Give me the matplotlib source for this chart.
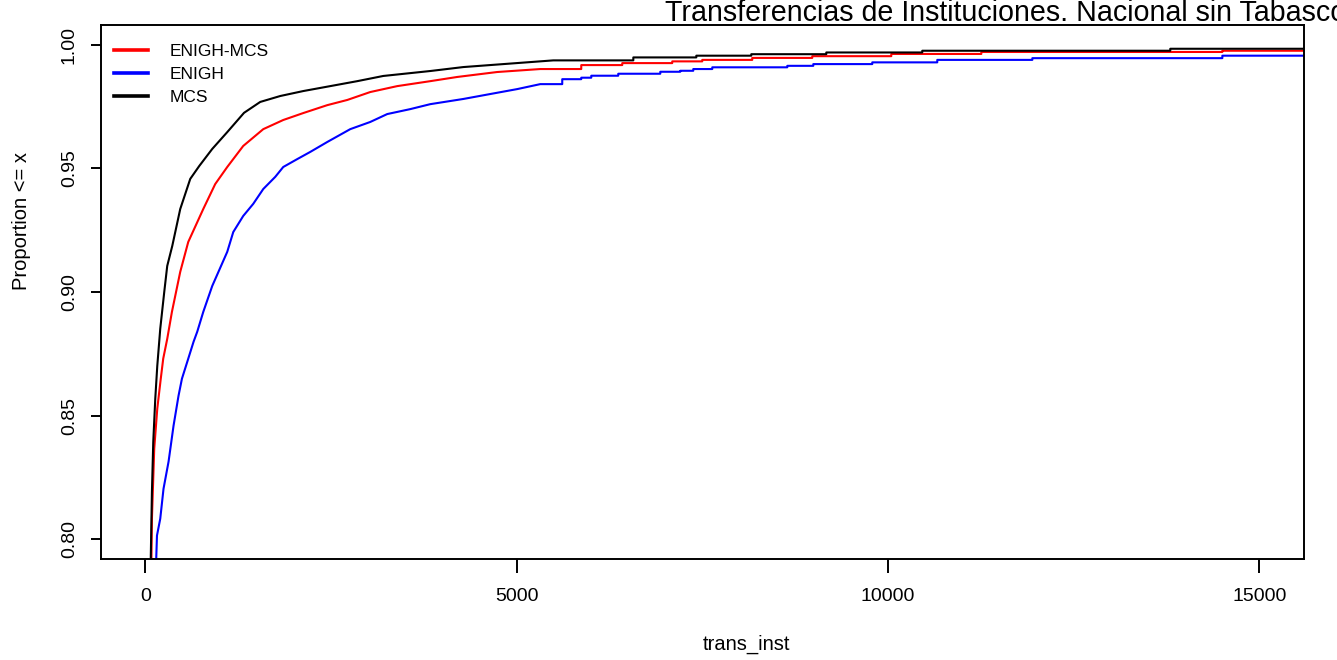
import matplotlib
matplotlib.use('Agg')
import matplotlib.pyplot as plt

# ECDF points (x = trans_inst, y = proportion <= x)
# below ~5500 the points follow the (finely stepped) curve, above it they are the visible jumps
mcs_x = [70, 90, 108, 135, 162, 202, 256, 296, 364, 471, 606, 727, 902, 1104, 1330,
         1548, 1818, 2127, 2491, 2854, 3204, 3837, 4282, 4820, 5493, 6571, 7419,
         8159, 9169, 10461, 13800]
mcs_y = [0.785, 0.8193, 0.8395, 0.8569, 0.8702, 0.8852, 0.9001, 0.9106, 0.9187,
         0.9336, 0.9458, 0.9510, 0.9579, 0.9647, 0.9725, 0.9769, 0.9793, 0.9813,
         0.9833, 0.9853, 0.9874, 0.9894, 0.9910, 0.9922, 0.9937, 0.9949, 0.9956,
         0.9962, 0.9969, 0.9976, 0.9984]

enigh_mcs_x = [80, 90, 121, 162, 209, 242, 296, 359, 471, 579, 781, 942, 1104, 1319,
               1589, 1858, 2127, 2450, 2720, 3029, 3393, 3837, 4201, 4739, 5318,
               5870, 6422, 7095, 7499, 8172, 8980, 10044, 11256, 14501]
enigh_mcs_y = [0.785, 0.8084, 0.8367, 0.8529, 0.8650, 0.8731, 0.8811, 0.8920, 0.9082,
               0.9203, 0.9336, 0.9437, 0.9506, 0.9591, 0.9659, 0.9696, 0.9724,
               0.9756, 0.9777, 0.9809, 0.9833, 0.9853, 0.9870, 0.9890, 0.9902,
               0.9918, 0.9926, 0.9933, 0.9939, 0.9947, 0.9954, 0.9963, 0.9971,
               0.9976]

enigh_x = [140, 158, 202, 246, 314, 381, 448, 494, 579, 650, 700, 781, 902, 1104, 1185,
           1319, 1454, 1589, 1750, 1858, 2047, 2222, 2450, 2760, 3029, 3258, 3568,
           3837, 4282, 4645, 5009, 5318, 5614, 5870, 6005, 6368, 6934, 7203, 7378,
           7634, 8644, 8994, 9788, 10663, 11943, 14501]
enigh_y = [0.785, 0.8016, 0.8084, 0.8205, 0.8315, 0.8460, 0.8581, 0.8650, 0.8731,
           0.8799, 0.8840, 0.8920, 0.9025, 0.9163, 0.9243, 0.9308, 0.9357, 0.9417,
           0.9466, 0.9506, 0.9538, 0.9567, 0.9607, 0.9659, 0.9688, 0.9720, 0.9740,
           0.9760, 0.9781, 0.9801, 0.9821, 0.9841, 0.9861, 0.9867, 0.9875, 0.9883,
           0.9891, 0.9895, 0.9902, 0.9909, 0.9915, 0.9922, 0.9929, 0.9939, 0.9946,
           0.9956]

series_names = ['ENIGH-MCS', 'ENIGH', 'MCS']
series_colors = ['red', 'blue', 'black']
x_ticks = [0, 5000, 10000, 15000]
y_ticks = [0.80, 0.85, 0.90, 0.95, 1.00]

CURVE_END = 5500  # after this the jumps are drawn as real steps


def caminho(xs, ys, xfim):
    px, py = [], []
    for i, (x, y) in enumerate(zip(xs, ys)):
        if x > CURVE_END and i > 0:
            px.append(x)
            py.append(ys[i - 1])
        px.append(x)
        py.append(y)
    px.append(xfim)
    py.append(ys[-1])
    return px, py


plt.rcParams['font.family'] = ['Liberation Sans', 'DejaVu Sans']

fig = plt.figure(figsize=(13.37, 6.60), dpi=100)
ax = fig.add_axes([0.0753, 0.1526, 0.9000, 0.8095])

xmin, xmax = -600, 15600
ax.set_xlim(xmin, xmax)
ax.set_ylim(0.792, 1.008)

datos = [(enigh_mcs_x, enigh_mcs_y), (enigh_x, enigh_y), (mcs_x, mcs_y)]
for (xs, ys), nome, cor in zip(datos, series_names, series_colors):
    px, py = caminho(xs, ys, xmax)
    ax.plot(px, py, color=cor, lw=1.5, label=nome)

ax.set_xticks(x_ticks)
ax.set_xticklabels([str(t) for t in x_ticks], fontsize=14)
ax.set_yticks(y_ticks)
ax.set_yticklabels(['%.2f' % t for t in y_ticks], fontsize=14, rotation=90, va='center')
ax.tick_params(axis='x', length=10, width=1.4, pad=11)
ax.tick_params(axis='y', length=7.5, width=1.4, pad=9)
for s in ax.spines.values():
    s.set_linewidth(1.4)

leg = ax.legend(loc='upper left', bbox_to_anchor=(0.005, 0.9775), frameon=False,
                fontsize=12.5, handlelength=2.0, handletextpad=1.2, labelspacing=0.45,
                borderaxespad=0.0)
for ln in leg.get_lines():
    ln.set_linewidth(2.6)

fig.text(665 / 1337, 1 - 21 / 660, 'Transferencias de Instituciones. Nacional sin Tabasco',
         fontsize=20.6, ha='left', va='baseline')
fig.text(746 / 1337, 1 - 650 / 660, 'trans_inst', fontsize=14.5, ha='center', va='baseline')
fig.text(22 / 1337, 1 - 221 / 660, 'Proportion <= x', fontsize=14.5, rotation=90,
         ha='center', va='center')

fig.savefig('out.png', dpi=100)
plt.close(fig)
